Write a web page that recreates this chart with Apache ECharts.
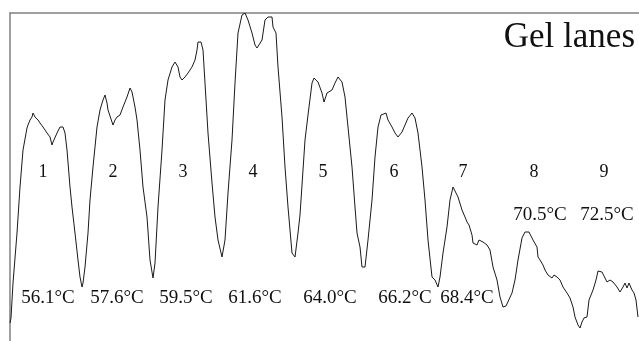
<!DOCTYPE html>
<html>
<head>
<meta charset="utf-8">
<script src="https://cdn.jsdelivr.net/npm/echarts@6/dist/echarts.min.js"></script>
<style>html,body{margin:0;padding:0;background:#fff}#c{width:639px;height:341px}</style>
</head>
<body>
<div id="c"></div>
<script>
// Scan position along the gel (arbitrary units) and densitometric intensity
const scanPos = [10,11,13,17,20,23,27,28,30,32,33,35,37,38,40,43,47,50,52,53,57,60,63,65,67,70,72,75,78,80,82,83,85,88,90,93,97,100,103,105,107,108,110,113,115,117,118,120,123,127,130,132,135,137,140,143,147,150,153,155,158,162,165,168,172,175,178,180,182,185,188,192,195,197,198,201,203,205,208,212,215,218,222,225,228,232,235,238,242,245,248,252,255,257,259,262,265,268,272,273,276,278,282,285,288,292,295,298,300,303,305,308,312,314,318,322,324,327,329,332,335,338,342,345,348,352,355,357,360,362,365,368,372,375,378,381,383,386,388,392,395,398,402,405,408,412,415,418,422,425,428,432,435,438,
  440,443,447,450,453,455,458,462,465,467,469,472,473,475,477,479,481,483,485,487,490,493,497,500,503,506,508,512,515,518,522,525,527,529,533,537,538,540,543,545,548,550,552,554,557,560,563,567,570,573,575,578,580,582,584,587,589,591,593,596,598,602,604,607,610,613,617,620,623,625,627,629,632,634,636,638];
const intensity = [18,23,58,108,154,191,213,216,221,224,228,224,226,221,218,214,208,204,196,199,208,214,214,208,191,154,134,108,81,64,54,58,74,108,141,174,214,231,241,246,238,231,231,216,221,224,223,226,234,244,253,249,234,221,191,154,124,81,63,78,134,191,241,261,274,279,274,264,261,264,268,274,281,291,299,299,291,258,208,158,124,101,84,101,148,201,258,308,326,328,321,308,296,293,294,301,321,324,324,314,308,274,224,174,134,88,84,108,126,171,201,226,258,263,259,248,239,248,246,251,258,264,259,244,214,174,134,108,94,74,74,101,141,184,214,226,224,228,221,214,208,204,209,216,223,228,223,208,174,141,101,64,61,54,
  64,88,114,141,154,155,144,131,124,119,116,106,98,99,96,101,103,99,101,96,91,74,61,44,34,35,34,48,61,81,103,109,111,109,101,94,84,81,76,71,66,68,63,66,64,61,54,48,43,34,24,16,13,19,23,24,41,43,51,61,70,69,68,59,61,59,54,49,54,58,53,58,51,48,41,24];

const laneNumbers = ['1','2','3','4','5','6','7','8','9'];
const laneTemps = ['56.1°C','57.6°C','59.5°C','61.6°C','64.0°C','66.2°C','68.4°C','70.5°C','72.5°C'];
const title = 'Gel lanes';

const numX = [43,113,183,253,323,394,463,534,604];
const tempX = [48,117,186,255,330,405,467,540,607];
const tempY = [298,298,298,298,298,298,298,215,215];

const font = '"Liberation Serif", "Times New Roman", serif';
const graphics = [];
laneNumbers.forEach((t,i)=>graphics.push({type:'text',x:numX[i],y:172,style:{text:t,font:'18px '+font,fill:'#111',textAlign:'center',textVerticalAlign:'middle'}}));
laneTemps.forEach((t,i)=>graphics.push({type:'text',x:tempX[i],y:tempY[i],style:{text:t,font:'19px '+font,fill:'#111',textAlign:'center',textVerticalAlign:'middle'}}));
graphics.push({type:'text',right:4,top:20,style:{text:title,font:'35px '+font,fill:'#111'}});

const chart = echarts.init(document.getElementById('c'));
chart.setOption({
  animation:false,
  grid:{left:10,top:13,right:0,bottom:0},
  xAxis:{type:'value',min:10,max:639,position:'top',axisLine:{show:true,onZero:false,lineStyle:{color:'#808080',width:1.5}},axisTick:{show:false},axisLabel:{show:false},splitLine:{show:false}},
  yAxis:{type:'value',min:0,max:328,axisLine:{show:true,lineStyle:{color:'#808080',width:1.5}},axisTick:{show:false},axisLabel:{show:false},splitLine:{show:false}},
  series:[{type:'line',data:scanPos.map((x,i)=>[x,intensity[i]]),showSymbol:false,clip:true,lineStyle:{color:'#1a1a1a',width:1}}],
  graphic:graphics
});
</script>
</body>
</html>
